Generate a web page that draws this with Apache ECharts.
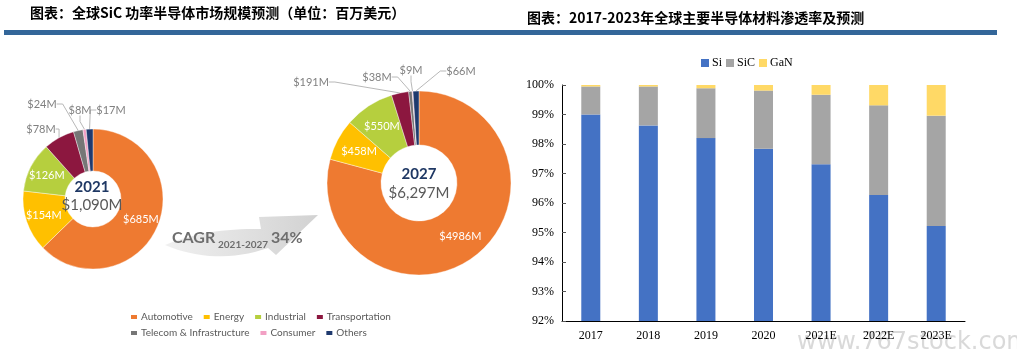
<!DOCTYPE html>
<html>
<head>
<meta charset="utf-8">
<script src="https://cdn.jsdelivr.net/npm/echarts@6/dist/echarts.min.js"></script>
<style>html,body{margin:0;padding:0;background:#fff}#c{width:1017px;height:360px}</style>
</head>
<body>
<div id="c"></div>
<script>
// ---- data ----
const segments = ['Automotive', 'Energy', 'Industrial', 'Transportation', 'Telecom & Infrastructure', 'Consumer', 'Others'];
const values2021 = [685, 154, 126, 78, 24, 8, 17];
const values2027 = [4986, 458, 550, 191, 38, 9, 66];
const total2021 = '$1,090M';
const total2027 = '$6,297M';
const cagrText = '34%';

const years = ['2017', '2018', '2019', '2020', '2021E', '2022E', '2023E'];
const siShare = [99.0, 98.63, 98.2, 97.84, 97.31, 96.27, 95.22];
const sicShare = [0.95, 1.32, 1.69, 1.97, 2.36, 3.04, 3.74];
const ganShare = [0.05, 0.05, 0.11, 0.19, 0.33, 0.69, 1.04];
const yTicks = [92, 93, 94, 95, 96, 97, 98, 99, 100];

// ---- styles ----
const segColors = ['#EE7A31', '#FFC000', '#B6CF3E', '#8C173F', '#767676', '#F2A0C4', '#1F3A6E'];
const outsideIdx = [3, 4, 5, 6];
const outsidePos2021 = {3: [41, 129], 4: [42, 104], 5: [80, 110], 6: [111, 110]};
const outsidePos2027 = {3: [311, 82], 4: [377, 77], 5: [411, 70], 6: [461, 71]};

function pieData(vals) {
  return segments.map(function (n, i) {
    const d = {name: n, value: vals[i], itemStyle: {color: segColors[i]}};
    if (outsideIdx.indexOf(i) >= 0) {
      d.label = {position: 'outside', color: '#808080', overflow: 'none', width: 60};
      d.labelLine = {show: true, length: 6, length2: 6, lineStyle: {color: '#A6A6A6', width: 0.8}};
    }
    return d;
  });
}

function makeLayout(posMap) {
  return function (p) {
    const pos = posMap[p.dataIndex];
    if (!pos) return {};
    return {x: pos[0], y: pos[1], align: 'center', verticalAlign: 'middle'};
  };
}

// arrow polygon (decoration)
function quad(p0, c, p1, n) {
  const pts = [];
  for (let i = 0; i <= n; i++) {
    const t = i / n;
    pts.push([
      (1 - t) * (1 - t) * p0[0] + 2 * (1 - t) * t * c[0] + t * t * p1[0],
      (1 - t) * (1 - t) * p0[1] + 2 * (1 - t) * t * c[1] + t * t * p1[1]
    ]);
  }
  return pts;
}
const arrowPts = [].concat(
  quad([165, 245], [205, 228], [261, 229], 16),
  [[259, 217], [318, 215], [276, 255], [268, 248]],
  quad([268, 248], [215, 266], [165, 245], 16).slice(1)
);

const sansFont = 'Lato, "Noto Sans", sans-serif';
const serifFont = '"Liberation Serif", "DejaVu Serif", serif';

const chart = echarts.init(document.getElementById('c'), null, {renderer: 'canvas'});
const option = {
  animation: false,
  backgroundColor: '#fff',
  graphic: [
    {type: 'text', x: 30, y: 13, style: {text: '图表：全球SiC 功率半导体市场规模预测（单位：百万美元）', font: 'bold 14px "Noto Sans CJK SC"', fill: '#000', textVerticalAlign: 'middle'}},
    {type: 'rect', shape: {x: 4, y: 30, width: 506, height: 5}, style: {fill: '#336699'}},
    {type: 'text', x: 527, y: 18, style: {text: '图表：2017-2023年全球主要半导体材料渗透率及预测', font: 'bold 14px "Noto Sans CJK SC"', fill: '#000', textVerticalAlign: 'middle'}},
    {type: 'rect', shape: {x: 510, y: 30, width: 487, height: 5}, style: {fill: '#336699'}},
    {type: 'polygon', shape: {points: arrowPts}, style: {fill: new echarts.graphic.LinearGradient(0, 0, 1, 0, [{offset: 0, color: '#F0F0F0'}, {offset: 1, color: '#D2D2D2'}])}, z: 1},
    {type: 'text', x: 172, y: 238, z: 2, style: {text: 'CAGR', font: 'bold 16px ' + sansFont, fill: '#6E6E6E', textVerticalAlign: 'middle'}},
    {type: 'text', x: 218, y: 245, z: 2, style: {text: '2021-2027', font: 'bold 10px ' + sansFont, fill: '#6E6E6E', textVerticalAlign: 'middle'}},
    {type: 'text', x: 271, y: 238, z: 2, style: {text: cagrText, font: 'bold 16px ' + sansFont, fill: '#6E6E6E', textVerticalAlign: 'middle'}},
    {type: 'text', x: 92, y: 187, z: 5, style: {text: '2021', font: 'bold 15px ' + sansFont, fill: '#1F3864', textAlign: 'center', textVerticalAlign: 'middle'}},
    {type: 'text', x: 92, y: 205, z: 5, style: {text: total2021, font: '15px ' + sansFont, fill: '#595959', textAlign: 'center', textVerticalAlign: 'middle'}},
    {type: 'text', x: 419, y: 174, z: 5, style: {text: '2027', font: 'bold 15px ' + sansFont, fill: '#1F3864', textAlign: 'center', textVerticalAlign: 'middle'}},
    {type: 'text', x: 419, y: 193, z: 5, style: {text: total2027, font: '15px ' + sansFont, fill: '#595959', textAlign: 'center', textVerticalAlign: 'middle'}},
    {type: 'text', x: 797, y: 343, z: 0, style: {text: 'www.767stock.com', font: '24px "DejaVu Sans", sans-serif', fill: 'rgba(170,170,170,0.45)', textVerticalAlign: 'middle'}}
  ],
  legend: [
    {data: segments.slice(0, 4), left: 129, top: 312, padding: 0, orient: 'horizontal', selectedMode: false, icon: 'rect', itemWidth: 8, itemHeight: 6, itemGap: 9, textStyle: {fontSize: 10, color: '#595959', fontFamily: sansFont, padding: [0, 0, 0, -2]}},
    {data: segments.slice(4), left: 129, top: 328, padding: 0, orient: 'horizontal', selectedMode: false, icon: 'rect', itemWidth: 8, itemHeight: 6, itemGap: 9, textStyle: {fontSize: 10, color: '#595959', fontFamily: sansFont, padding: [0, 0, 0, -2]}},
    {data: ['Si', 'SiC', 'GaN'], left: 701, top: 57, padding: 0, selectedMode: false, icon: 'rect', itemWidth: 8, itemHeight: 8, itemGap: 4, textStyle: {fontSize: 12, color: '#000', fontFamily: serifFont, padding: [0, 0, 0, -2]}}
  ],
  grid: {left: 562, right: 52, top: 85, bottom: 39},
  xAxis: {
    type: 'category', data: years,
    axisLine: {lineStyle: {color: '#000', width: 1}},
    axisTick: {show: false},
    axisLabel: {color: '#000', fontFamily: serifFont, fontSize: 12, margin: 9}
  },
  yAxis: {
    type: 'value', min: yTicks[0], max: yTicks[yTicks.length - 1], interval: 1,
    axisLine: {show: true, lineStyle: {color: '#000', width: 1}},
    axisTick: {show: true, inside: true, length: 4, lineStyle: {color: '#555'}},
    splitLine: {show: false},
    axisLabel: {color: '#000', fontFamily: serifFont, fontSize: 12, margin: 8, formatter: '{value}%'}
  },
  series: [
    {
      type: 'pie', name: '2021', center: [93, 199], radius: [28, 70], startAngle: 90, clockwise: true,
      data: pieData(values2021),
      itemStyle: {borderColor: '#fff', borderWidth: 0.4},
      label: {position: 'inside', color: '#fff', fontSize: 11, fontFamily: sansFont, overflow: 'none', formatter: function (p) { return '$' + p.value + 'M'; }},
      labelLayout: makeLayout(outsidePos2021),
      emphasis: {disabled: true}
    },
    {
      type: 'pie', name: '2027', center: [419, 183], radius: [38, 92], startAngle: 90, clockwise: true,
      data: pieData(values2027),
      itemStyle: {borderColor: '#fff', borderWidth: 0.4},
      label: {position: 'inside', color: '#fff', fontSize: 11, fontFamily: sansFont, overflow: 'none', formatter: function (p) { return '$' + p.value + 'M'; }},
      labelLayout: makeLayout(outsidePos2027),
      emphasis: {disabled: true}
    },
    {type: 'bar', name: 'Si', stack: 'a', data: siShare, barWidth: 19, itemStyle: {color: '#4472C4'}, clip: true},
    {type: 'bar', name: 'SiC', stack: 'a', data: sicShare, barWidth: 19, itemStyle: {color: '#A5A5A5'}, clip: true},
    {type: 'bar', name: 'GaN', stack: 'a', data: ganShare, barWidth: 19, itemStyle: {color: '#FFD966'}, clip: true}
  ]
};
chart.setOption(option);
</script>
</body>
</html>
